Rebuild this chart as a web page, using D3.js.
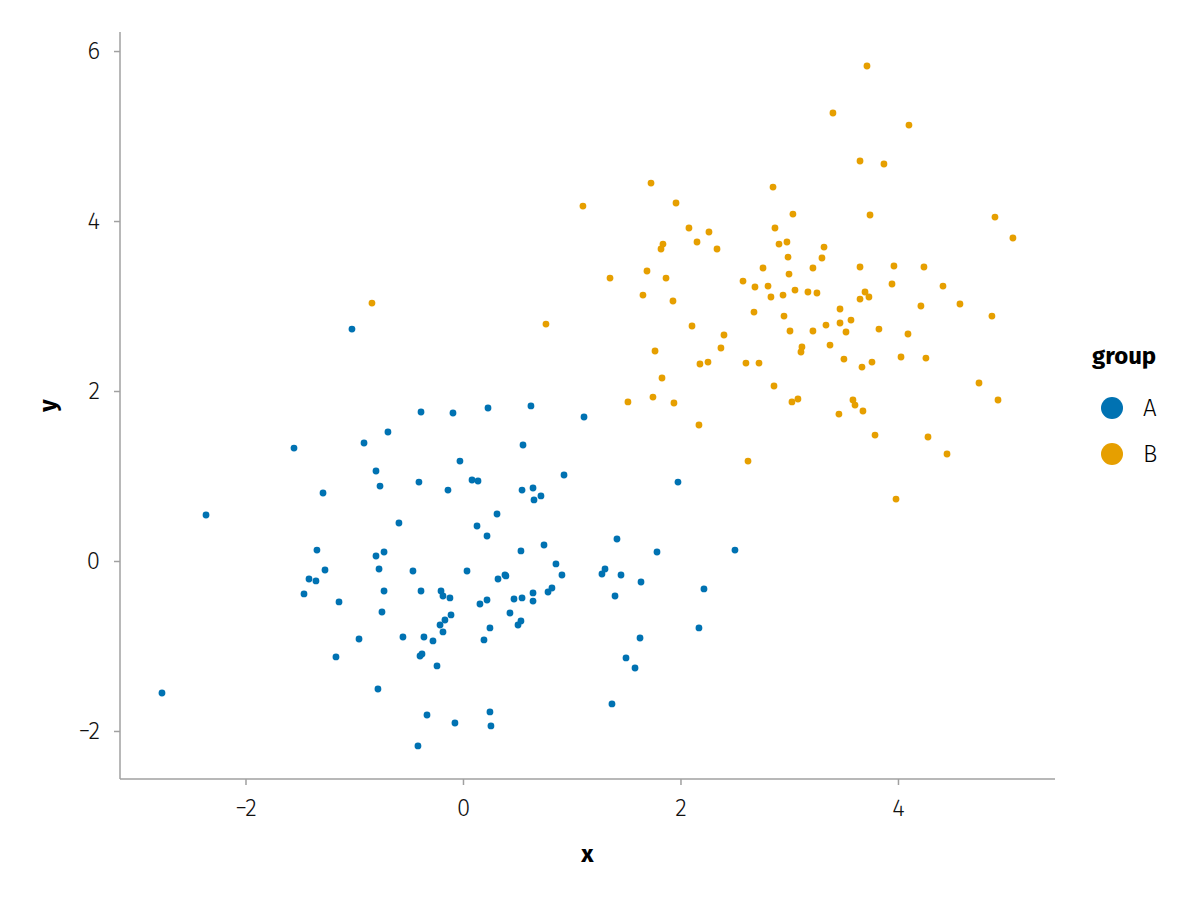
<!DOCTYPE html>
<html><head><meta charset="utf-8">
<script src="https://cdn.jsdelivr.net/npm/d3@7"></script>
<style>body{margin:0;background:#fff}svg{display:block}</style>
</head><body>
<svg id="c" width="1200" height="900"></svg>
<script>
const groups = ["A", "B"];
const colors = ["#0072B2", "#E69F00"];
const xTicks = [-2, 0, 2, 4];
const yTicks = [-2, 0, 2, 4, 6];

const ax = [-2.768,-2.363,-1.554,-1.021,-1.287,-1.343,-1.269,-1.416,-1.352,-1.462,-1.140,-1.168,-0.956,-0.910,-0.690,-0.800,-0.763,-0.800,-0.726,-0.772,-0.726,-0.745,-0.782,-0.589,-0.552,-0.460,-0.405,-0.386,-0.386,-0.359,-0.395,-0.377,-0.331,-0.414,-0.276,-0.239,-0.202,-0.184,-0.211,-0.184,-0.166,-0.120,-0.110,-0.138,-0.092,-0.028,-0.074,0.037,0.083,0.138,0.129,0.156,0.193,0.221,0.221,0.230,0.248,0.248,0.257,0.313,0.322,0.386,0.395,0.432,0.469,0.506,0.533,0.543,0.533,0.543,0.552,0.625,0.644,0.644,0.653,0.644,0.717,0.745,0.782,0.818,0.855,0.910,0.929,1.113,1.278,1.306,1.416,1.398,1.453,1.499,1.582,1.370,1.637,1.628,1.784,1.977,2.170,2.216,2.501];
const ay = [-1.553,0.541,1.329,2.729,0.800,0.129,-0.106,-0.212,-0.235,-0.388,-0.482,-1.129,-0.918,1.388,1.518,1.059,0.882,0.059,0.106,-0.094,-0.353,-0.600,-1.506,0.447,-0.894,-0.118,0.929,1.753,-0.353,-0.894,-1.118,-1.094,-1.812,-2.176,-0.941,-1.235,-0.353,-0.412,-0.753,-0.835,-0.694,-0.435,-0.635,0.835,1.741,1.176,-1.906,-0.118,0.953,0.941,0.412,-0.506,-0.929,-0.459,0.294,1.800,-0.788,-1.776,-1.941,0.553,-0.212,-0.165,-0.176,-0.612,-0.447,-0.753,-0.706,-0.435,0.118,0.835,1.365,1.824,-0.376,-0.471,0.718,0.859,0.765,0.188,-0.365,-0.318,-0.035,-0.165,1.012,1.694,-0.153,-0.094,0.259,-0.412,-0.165,-1.141,-1.259,-1.682,-0.247,-0.906,0.106,0.929,-0.788,-0.329,0.129];

const bx = [-0.837,1.103,0.763,1.729,1.959,2.851,3.034,2.078,2.262,2.869,1.839,1.821,2.152,2.336,2.906,2.979,2.989,2.759,1.692,1.352,1.867,2.998,2.575,2.685,2.805,3.053,2.832,2.943,1.655,1.931,2.676,2.952,3.007,2.106,2.400,2.372,1.766,2.179,2.253,2.602,2.722,1.830,2.860,3.025,3.080,1.517,1.747,1.940,2.170,2.621,3.715,3.402,4.101,3.651,3.871,3.743,4.892,5.057,3.320,3.301,3.218,3.651,3.963,4.239,3.945,4.414,3.172,3.255,3.697,3.651,3.733,4.211,4.570,3.467,4.864,3.338,3.467,3.568,3.522,3.825,4.092,3.218,3.375,3.117,3.108,3.503,3.669,3.761,4.028,4.257,4.745,4.920,3.586,3.605,3.678,3.457,3.789,4.276,4.451,3.982];
const by = [3.035,4.176,2.788,4.447,4.212,4.400,4.082,3.918,3.871,3.918,3.729,3.671,3.753,3.671,3.729,3.753,3.576,3.447,3.412,3.329,3.329,3.376,3.294,3.224,3.235,3.188,3.106,3.129,3.129,3.059,2.929,2.882,2.706,2.765,2.659,2.506,2.471,2.318,2.341,2.329,2.329,2.153,2.059,1.871,1.906,1.871,1.929,1.859,1.600,1.176,5.824,5.271,5.129,4.706,4.671,4.071,4.047,3.800,3.694,3.565,3.447,3.459,3.471,3.459,3.259,3.235,3.165,3.153,3.165,3.082,3.106,3.000,3.024,2.965,2.882,2.776,2.800,2.835,2.694,2.729,2.671,2.706,2.541,2.518,2.459,2.376,2.282,2.341,2.400,2.388,2.094,1.894,1.894,1.835,1.765,1.729,1.482,1.459,1.259,0.729];

const FONT = "'Fira Sans','Noto Sans','Open Sans',sans-serif";
const svg = d3.select("#c");
const L = 120, R = 1055, T = 32, B = 779;
const x = d3.scaleLinear().domain([-3.154, 5.444]).range([L, R]);
const y = d3.scaleLinear().domain([-2.565, 6.224]).range([B, T]);
const fmt = d => d < 0 ? "\u2212" + Math.abs(d) : d;

const gx = svg.append("g").attr("transform", `translate(0,${B})`)
  .call(d3.axisBottom(x).tickValues(xTicks).tickSize(6).tickPadding(14).tickFormat(fmt));
const gy = svg.append("g").attr("transform", `translate(${L},0)`)
  .call(d3.axisLeft(y).tickValues(yTicks).tickSize(6).tickPadding(14).tickFormat(fmt));
[gx, gy].forEach(g => {
  g.select(".domain").attr("stroke", "#a0a0a0").attr("stroke-width", 1.5);
  g.selectAll(".tick line").attr("stroke", "#a0a0a0").attr("stroke-width", 1.5);
  g.selectAll(".tick text").attr("fill", "#111").style("font-family", FONT).style("font-weight", 300).style("font-size", "24px");
});
gx.select(".domain").attr("d", `M${L},0H${R}`);
gy.select(".domain").attr("d", `M0,${B}V${T}`);

const data = [];
ax.forEach((v, i) => data.push({ x: v, y: ay[i], g: 0 }));
bx.forEach((v, i) => data.push({ x: v, y: by[i], g: 1 }));
svg.append("g").selectAll("circle").data(data).join("circle")
  .attr("cx", d => x(d.x)).attr("cy", d => y(d.y)).attr("r", 3.4)
  .attr("fill", d => colors[d.g]);

svg.append("text").attr("x", (L + R) / 2).attr("y", 862).attr("text-anchor", "middle")
  .style("font-family", FONT).style("font-weight", 700).style("font-size", "24px").text("x");
svg.append("text").attr("transform", `translate(56,${(T + B) / 2}) rotate(-90)`).attr("text-anchor", "middle")
  .style("font-family", FONT).style("font-weight", 700).style("font-size", "24px").text("y");

const lg = svg.append("g");
lg.append("text").attr("x", 1092).attr("y", 364).style("font-family", FONT).style("font-weight", 700).style("font-size", "24px").text("group");
groups.forEach((g, i) => {
  lg.append("circle").attr("cx", 1112).attr("cy", 408 + i * 46).attr("r", 11).attr("fill", colors[i]);
  lg.append("text").attr("x", 1143).attr("y", 408 + i * 46).attr("dy", "0.35em")
    .style("font-family", FONT).style("font-weight", 300).style("font-size", "24px").text(g);
});
</script>
</body></html>
